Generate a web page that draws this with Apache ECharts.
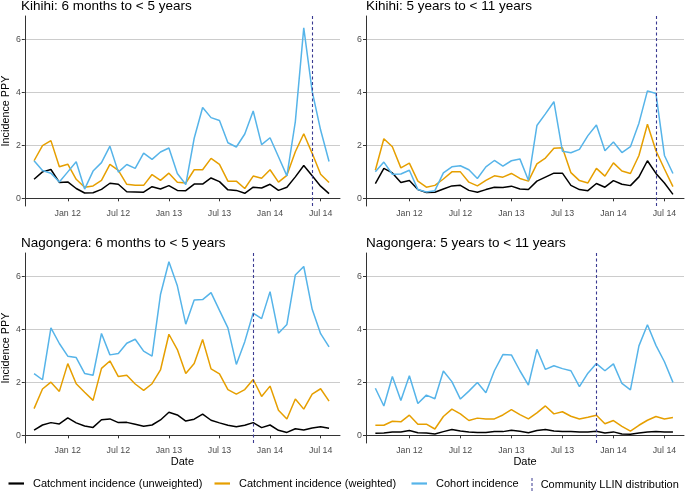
<!DOCTYPE html>
<html>
<head>
<meta charset="utf-8">
<script src="https://cdn.jsdelivr.net/npm/echarts@6/dist/echarts.min.js"></script>
<style>
  html, body { margin: 0; padding: 0; background: #fff; }
  #main { width: 685px; height: 494px; }
</style>
</head>
<body>
<div id="main"></div>
<script type="text/javascript">
    // months of the survey (first of month)
    var months = ['2011-09','2011-10','2011-11','2011-12','2012-01','2012-02','2012-03','2012-04','2012-05','2012-06','2012-07','2012-08',
                  '2012-09','2012-10','2012-11','2012-12','2013-01','2013-02','2013-03','2013-04','2013-05','2013-06','2013-07','2013-08',
                  '2013-09','2013-10','2013-11','2013-12','2014-01','2014-02','2014-03','2014-04','2014-05','2014-06','2014-07','2014-08'];

    // x axis tick labels
    var tickMonths = ['2012-01','2012-07','2013-01','2013-07','2014-01','2014-07'];
    var tickLabels = ['Jan 12','Jul 12','Jan 13','Jul 13','Jan 14','Jul 14'];
    var yTicks = [0, 2, 4, 6];

    var panelTitles = ['Kihihi: 6 months to < 5 years', 'Kihihi: 5 years to < 11 years',
                       'Nagongera: 6 months to < 5 years', 'Nagongera: 5 years to < 11 years'];
    // community LLIN distribution month, per panel
    var llinMonths = ['2014-06', '2014-06', '2013-11', '2013-11'];

    var seriesNames = ['Catchment incidence (unweighted)', 'Catchment incidence (weighted)', 'Cohort incidence'];
    var seriesColors = ['#000000', '#E69F00', '#56B4E9'];

    // Kihihi 6 months to < 5 years
    var kihihiYoungUnw = [0.72,1.00,1.09,0.60,0.62,0.37,0.20,0.21,0.34,0.57,0.53,0.25,0.24,0.23,0.44,0.35,0.48,0.30,0.29,0.54,0.54,0.77,0.63,0.32,0.30,0.19,0.42,0.39,0.53,0.30,0.42,0.81,1.24,0.85,0.46,0.18];
    var kihihiYoungWt  = [1.42,1.99,2.18,1.19,1.29,0.72,0.42,0.47,0.68,1.28,1.06,0.53,0.49,0.49,0.90,0.68,0.95,0.61,0.58,1.08,1.08,1.51,1.28,0.65,0.65,0.37,0.84,0.76,1.08,0.61,0.87,1.76,2.44,1.70,0.91,0.60];
    var kihihiYoungCoh = [1.42,1.05,0.95,0.62,1.00,1.38,0.35,1.03,1.35,1.97,0.99,1.28,1.13,1.71,1.47,1.75,1.90,0.94,0.52,2.27,3.43,3.05,2.94,2.10,1.94,2.43,3.30,2.03,2.29,1.57,0.85,2.90,6.44,4.04,2.58,1.39];

    // Kihihi 5 years to < 11 years
    var kihihiOldUnw = [0.56,1.13,0.96,0.60,0.67,0.33,0.22,0.23,0.35,0.47,0.49,0.30,0.23,0.33,0.42,0.41,0.46,0.35,0.33,0.65,0.80,0.95,0.95,0.49,0.33,0.29,0.56,0.42,0.67,0.53,0.48,0.81,1.42,0.94,0.58,0.15];
    var kihihiOldWt  = [1.06,2.25,1.95,1.15,1.33,0.65,0.42,0.49,0.73,1.00,1.00,0.61,0.47,0.68,0.85,0.80,0.94,0.75,0.65,1.30,1.52,1.89,1.91,0.97,0.67,0.58,1.13,0.84,1.34,1.03,0.94,1.62,2.80,1.80,1.11,0.44];
    var kihihiOldCoh = [1.00,1.37,0.91,0.92,1.06,0.33,0.24,0.29,0.96,1.19,1.23,1.08,0.75,1.19,1.43,1.22,1.42,1.49,0.68,2.75,3.19,3.65,1.78,1.72,1.85,2.37,2.77,1.80,2.13,1.73,1.95,2.84,4.06,3.96,1.62,0.94];

    // Nagongera 6 months to < 5 years
    var nagYoungUnw = [0.20,0.39,0.48,0.43,0.66,0.47,0.35,0.30,0.59,0.62,0.48,0.49,0.42,0.34,0.39,0.58,0.87,0.77,0.54,0.61,0.80,0.57,0.47,0.38,0.32,0.38,0.48,0.29,0.39,0.19,0.11,0.25,0.20,0.28,0.32,0.27];
    var nagYoungWt  = [1.01,1.75,2.01,1.66,2.71,1.95,1.63,1.32,2.53,2.81,2.22,2.27,1.94,1.70,1.95,2.47,3.82,3.24,2.34,2.71,3.62,2.51,2.32,1.73,1.56,1.73,2.11,1.47,1.86,0.95,0.62,1.37,0.99,1.56,1.76,1.29];
    var nagYoungCoh = [2.33,2.10,4.06,3.47,2.99,2.94,2.34,2.27,3.85,3.04,3.09,3.48,3.63,3.18,2.99,5.32,6.56,5.65,4.20,5.11,5.13,5.39,4.72,4.06,2.68,3.54,4.62,4.41,5.43,3.86,4.19,6.06,6.38,4.76,3.84,3.34];

    // Nagongera 5 years to < 11 years
    var nagOldUnw = [0.08,0.09,0.13,0.13,0.18,0.10,0.09,0.05,0.14,0.22,0.16,0.13,0.11,0.11,0.14,0.14,0.19,0.15,0.10,0.18,0.22,0.16,0.14,0.14,0.13,0.13,0.15,0.09,0.13,0.05,0.04,0.09,0.13,0.14,0.13,0.13];
    var nagOldWt  = [0.38,0.38,0.53,0.51,0.76,0.42,0.42,0.24,0.71,0.99,0.81,0.56,0.65,0.62,0.62,0.77,0.97,0.78,0.62,0.85,1.11,0.81,0.89,0.72,0.62,0.68,0.76,0.44,0.56,0.34,0.16,0.38,0.57,0.71,0.62,0.67];
    var nagOldCoh = [1.78,1.11,2.22,1.32,2.25,1.20,1.52,1.38,2.43,2.03,1.37,1.67,2.00,1.61,2.44,3.05,3.04,2.44,1.90,3.25,2.49,2.63,2.52,2.44,1.84,2.35,2.71,2.44,2.70,1.96,1.72,3.38,4.18,3.40,2.78,2.00];

    var panelData = [
        [kihihiYoungUnw, kihihiYoungWt, kihihiYoungCoh],
        [kihihiOldUnw, kihihiOldWt, kihihiOldCoh],
        [nagYoungUnw, nagYoungWt, nagYoungCoh],
        [nagOldUnw, nagOldWt, nagOldCoh]
    ];

    // 'YYYY-MM' -> month number counted from Jan 2011
    function monthNum(s) {
        var p = s.split('-');
        return (parseInt(p[0]) - 2011) * 12 + parseInt(p[1]) - 1;
    }
    var tickValues = tickMonths.map(monthNum);

    var font = "'Liberation Sans', Arial, sans-serif";
    var grids = [
        { left: 21,  top: 16,  width: 319, height: 190 },
        { left: 366, top: 16,  width: 318, height: 190 },
        { left: 21,  top: 253, width: 319, height: 190 },
        { left: 366, top: 253, width: 318, height: 190 }
    ];

    var xAxes = [], yAxes = [], series = [], titles = [];
    for (var g = 0; g < 4; g++) {
        var bottomRow = g >= 2, leftCol = (g % 2 == 0);
        xAxes.push({
            type: 'value', gridIndex: g, min: 6.9, max: 44.3,
            name: bottomRow ? 'Date' : '', nameLocation: 'middle', nameGap: 13,
            nameTextStyle: { fontFamily: font, fontSize: 11, color: '#000' },
            axisLine: { lineStyle: { color: '#333', width: 1 } },
            axisTick: { show: true, length: 3, customValues: tickValues, lineStyle: { color: '#333' } },
            axisLabel: {
                customValues: tickValues, margin: 3, fontFamily: font, fontSize: 8.8, color: '#4d4d4d',
                formatter: function (v) { return tickLabels[tickValues.indexOf(v)] || ''; }
            },
            splitLine: { show: false }
        });
        yAxes.push({
            type: 'value', gridIndex: g, min: -0.29, max: 6.89,
            name: leftCol ? 'Incidence PPY' : '', nameLocation: 'middle', nameGap: 11,
            nameTextStyle: { fontFamily: font, fontSize: 10.8, color: '#000' },
            axisLine: { show: true, lineStyle: { color: '#333', width: 1 } },
            axisTick: { show: true, length: 3, customValues: yTicks, lineStyle: { color: '#333' } },
            axisLabel: { customValues: yTicks, margin: 4, fontFamily: font, fontSize: 8.8, color: '#4d4d4d' },
            splitLine: { show: true, lineStyle: { color: '#cccccc', width: 1 } }
        });
        titles.push({
            text: panelTitles[g], left: grids[g].left, top: bottomRow ? 236 : -1, padding: 0,
            textStyle: { fontFamily: font, fontSize: 13.5, fontWeight: 'normal', color: '#000' }
        });
        for (var s = 0; s < 3; s++) {
            var vals = panelData[g][s];
            var pts = [];
            for (var i = 0; i < months.length; i++) pts.push([monthNum(months[i]), vals[i]]);
            var ser = {
                name: seriesNames[s], type: 'line', xAxisIndex: g, yAxisIndex: g,
                data: pts, symbol: 'none', color: seriesColors[s],
                lineStyle: { width: 1.5, color: seriesColors[s] }, silent: true, z: 2 + s
            };
            if (s == 2) {
                // vertical dashed line for LLIN distribution
                ser.markLine = {
                    silent: true, symbol: ['none', 'none'], label: { show: false },
                    lineStyle: { color: '#3b3b92', type: [3, 2.5], width: 1.1 },
                    data: [{ xAxis: monthNum(llinMonths[g]) }]
                };
            }
            series.push(ser);
        }
    }
    // legend only entry for the dashed line
    series.push({
        name: 'Community LLIN distribution', type: 'line', xAxisIndex: 0, yAxisIndex: 0,
        data: [], color: '#3b3b92', symbol: 'none'
    });

    var legendText = { fontFamily: font, fontSize: 11, color: '#000', padding: [0, 0, 0, 4] };
    var option = {
        animation: false,
        title: titles,
        grid: grids,
        xAxis: xAxes,
        yAxis: yAxes,
        legend: [
            { data: [seriesNames[0]], left: 8.5, top: 478, padding: 0, icon: 'rect', itemWidth: 15.5, itemHeight: 2.2, textStyle: legendText },
            { data: [seriesNames[1]], left: 214.5, top: 478, padding: 0, icon: 'rect', itemWidth: 15.5, itemHeight: 2.2, textStyle: legendText },
            { data: [seriesNames[2]], left: 411.5, top: 478, padding: 0, icon: 'rect', itemWidth: 15.5, itemHeight: 2.2, textStyle: legendText },
            { data: ['Community LLIN distribution'], left: 531.5, top: 478, padding: 0, itemWidth: 1.3, itemHeight: 13,
              icon: 'path://M0,0h1v3h-1zM0,5h1v3h-1zM0,10h1v3h-1z', textStyle: { fontFamily: font, fontSize: 11, color: '#000', padding: [0, 0, 0, 3] } }
        ],
        series: series
    };

    var myChart = echarts.init(document.getElementById('main'));
    myChart.setOption(option);
</script>
</body>
</html>
